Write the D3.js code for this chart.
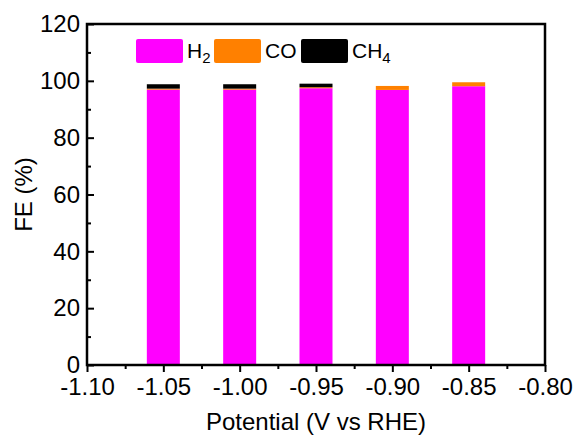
<!DOCTYPE html>
<html>
<head>
<meta charset="utf-8">
<script src="https://cdn.jsdelivr.net/npm/d3@7"></script>
<style>
  body { margin: 0; background: #fff; }
  text { font-family: "Liberation Sans", Arial, sans-serif; }
</style>
</head>
<body>
<div id="chart"></div>
<script>
// data
const potentials = [-1.05, -1.00, -0.95, -0.90, -0.85];
const feH2 = [96.9, 96.9, 97.4, 96.8, 98.1];
const feCO = [0.35, 0.35, 0.35, 1.4, 1.4];
const feCH4 = [1.55, 1.55, 1.25, 0, 0];
const xTicks = [-1.10, -1.05, -1.00, -0.95, -0.90, -0.85, -0.80];
const yTicks = [0, 20, 40, 60, 80, 100, 120];

const width = 576, height = 435;
const margin = { top: 24, right: 31, bottom: 70, left: 87 };

const svg = d3.select('#chart').append('svg')
    .attr('width', width)
    .attr('height', height);

const x = d3.scaleLinear()
    .domain([-1.10, -0.80])
    .range([margin.left, width - margin.right]);

const y = d3.scaleLinear()
    .domain([0, 120])
    .range([height - margin.bottom, margin.top]);

const colors = { H2: '#ff00ff', CO: '#ff8000', CH4: '#000000' };
const barW = 33;

// stacked bars
const rows = potentials.map((p, i) => ({ p, H2: feH2[i], CO: feCO[i], CH4: feCH4[i] }));
const stack = d3.stack().keys(['H2', 'CO', 'CH4'])(rows);

svg.append('g').selectAll('g')
    .data(stack)
    .join('g')
    .attr('fill', d => colors[d.key])
    .selectAll('rect')
    .data(d => d)
    .join('rect')
    .attr('x', d => x(d.data.p) - barW / 2)
    .attr('width', barW)
    .attr('y', d => y(d[1]))
    .attr('height', d => Math.max(0, y(d[0]) - y(d[1])));

// axes: x ticks outward, y ticks inward
const xAxis = svg.append('g')
    .attr('transform', `translate(0,${height - margin.bottom})`)
    .call(d3.axisBottom(x).tickValues(xTicks).tickFormat(d => d3.format('.2f')(d).replace('\u2212', '-'))
        .tickSize(7).tickPadding(6).tickSizeOuter(0));

const xMinor = svg.append('g')
    .attr('transform', `translate(0,${height - margin.bottom})`)
    .call(d3.axisBottom(x).tickValues(d3.range(-1.075, -0.80, 0.05)).tickFormat('').tickSize(4).tickSizeOuter(0));

const yAxis = svg.append('g')
    .attr('transform', `translate(${margin.left},0)`)
    .call(d3.axisLeft(y).tickValues(yTicks).tickSize(-7).tickPadding(7).tickSizeOuter(0));

const yMinor = svg.append('g')
    .attr('transform', `translate(${margin.left},0)`)
    .call(d3.axisLeft(y).tickValues(d3.range(10, 120, 20)).tickFormat('').tickSize(-4).tickSizeOuter(0));

[xAxis, xMinor, yAxis, yMinor].forEach(g => {
    g.select('.domain').remove();
    g.selectAll('line').attr('stroke', '#000').attr('stroke-width', 2);
});

xAxis.selectAll('text')
    .attr('fill', '#000')
    .style('font-size', '24px');
yAxis.selectAll('text')
    .attr('fill', '#000')
    .style('font-size', '24px');

// frame
svg.append('rect')
    .attr('x', margin.left)
    .attr('y', margin.top)
    .attr('width', width - margin.left - margin.right)
    .attr('height', height - margin.top - margin.bottom)
    .attr('fill', 'none')
    .attr('stroke', '#000')
    .attr('stroke-width', 2.5);

// axis titles
svg.append('text')
    .attr('x', (margin.left + width - margin.right) / 2)
    .attr('y', 430)
    .attr('text-anchor', 'middle')
    .style('font-size', '24px')
    .text('Potential (V vs RHE)');

svg.append('text')
    .attr('transform', `translate(32,${(margin.top + height - margin.bottom) / 2}) rotate(-90)`)
    .attr('text-anchor', 'middle')
    .style('font-size', '24px')
    .text('FE (%)');

// legend
const legend = [
    { key: 'H2', x: 136, label: 'H', sub: '2' },
    { key: 'CO', x: 214, label: 'CO', sub: '' },
    { key: 'CH4', x: 301, label: 'CH', sub: '4' }
];
const lg = svg.append('g');
legend.forEach(l => {
    lg.append('rect')
        .attr('x', l.x).attr('y', 39)
        .attr('width', 47).attr('height', 24)
        .attr('rx', 2)
        .attr('fill', colors[l.key]);
    const t = lg.append('text')
        .attr('x', l.x + 51).attr('y', 58)
        .style('font-size', '21px')
        .text(l.label);
    if (l.sub) {
        t.append('tspan').attr('dy', 5).style('font-size', '15px').text(l.sub);
    }
});
</script>
</body>
</html>
